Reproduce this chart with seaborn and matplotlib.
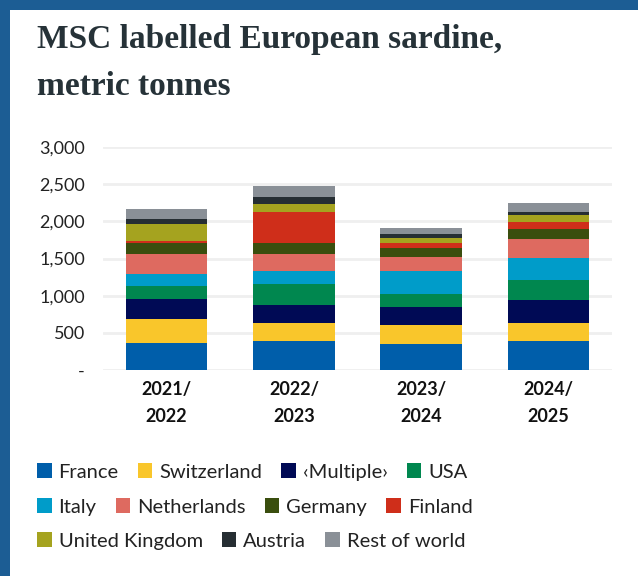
import matplotlib.pyplot as plt
import numpy as np
import seaborn as sns
from matplotlib.patches import Rectangle, Patch
from matplotlib.ticker import FuncFormatter

# Data (metric tonnes)
seasons = ['2021/\n2022', '2022/\n2023', '2023/\n2024', '2024/\n2025']
countries = ['France', 'Switzerland', '\u2039Multiple\u203a', 'USA', 'Italy', 'Netherlands',
             'Germany', 'Finland', 'United Kingdom', 'Austria', 'Rest of world']
france = [360, 390, 350, 390]
switzerland = [320, 245, 255, 245]
multiple = [270, 240, 240, 310]
usa = [175, 280, 175, 270]
italy = [160, 175, 310, 295]
netherlands = [270, 230, 190, 255]
germany = [150, 150, 120, 135]
finland = [35, 415, 65, 95]
uk = [230, 110, 65, 95]
austria = [65, 95, 65, 40]
rest = [135, 150, 80, 110]
colors = ['#005eaa', '#f9c62b', '#000a55', '#00874f', '#009cc9', '#de6a60',
          '#3a4e0e', '#cf2e1a', '#a5a31f', '#262e33', '#8a9097']

series = [france, switzerland, multiple, usa, italy, netherlands,
          germany, finland, uk, austria, rest]

sns.set_style('white')
plt.rcParams['font.family'] = ['Lato', 'DejaVu Sans']

fig = plt.figure(figsize=(6.38, 5.76), dpi=100)
fig.patch.set_facecolor('#1c5d94')
# white card behind everything
fig.patches.append(Rectangle((10 / 638, 0), 1, 1 - 10 / 576, transform=fig.transFigure,
                             facecolor='white', edgecolor='none', zorder=-5))

ax = fig.add_axes([103 / 638, 1 - 370 / 576, 509 / 638, 223 / 576])
ax.set_facecolor('none')

# stacked bars: draw cumulative totals from the top down so each layer covers the one above
cum = np.cumsum(np.array(series), axis=0)
for i in range(len(series) - 1, -1, -1):
    sns.barplot(x=seasons, y=cum[i], color=colors[i], width=0.64, saturation=1,
                ax=ax, zorder=3, linewidth=0)

ax.set_ylim(0, 3000)
ax.set_xlim(-0.5, 3.5)
ax.set_yticks([0, 500, 1000, 1500, 2000, 2500, 3000])
ax.yaxis.set_major_formatter(FuncFormatter(lambda v, p: '-' if v == 0 else f'{v:,.0f}'))
ax.grid(axis='y', color='#efefef', linewidth=2, zorder=0)
ax.grid(axis='x', visible=False)
ax.set_axisbelow(True)
sns.despine(ax=ax, left=True, bottom=True)
ax.tick_params(axis='both', length=0)
ax.tick_params(axis='y', labelsize=13, labelcolor='#222222', pad=13)
ax.tick_params(axis='x', labelsize=13, labelcolor='#111111', pad=8)
for lab in ax.get_xticklabels():
    lab.set_fontweight('bold')
    lab.set_linespacing(1.7)
ax.set_xlabel('')
ax.set_ylabel('')

fig.text(37 / 638, 1 - 24 / 576, 'MSC labelled European sardine,\nmetric tonnes',
         family='Liberation Serif', fontweight='bold', fontsize=24, color='#263238',
         ha='left', va='top', linespacing=1.65)

# legend as three flowing rows
rows = [[0, 1, 2, 3], [4, 5, 6, 7], [8, 9, 10]]
row_y = [472, 507, 541]
for idx, yy in zip(rows, row_y):
    handles = [Patch(facecolor=colors[k], edgecolor='none') for k in idx]
    leg = fig.legend(handles, [countries[k] for k in idx], loc='center left',
                     bbox_to_anchor=(37 / 638, 1 - yy / 576), ncol=len(idx),
                     frameon=False, fontsize=14.5, handlelength=0.72, handleheight=0.72,
                     handletextpad=0.35, columnspacing=0.95, borderpad=0, borderaxespad=0)
    for t in leg.get_texts():
        t.set_color('#222222')

fig.savefig('out.png', dpi=100, facecolor=fig.get_facecolor())
